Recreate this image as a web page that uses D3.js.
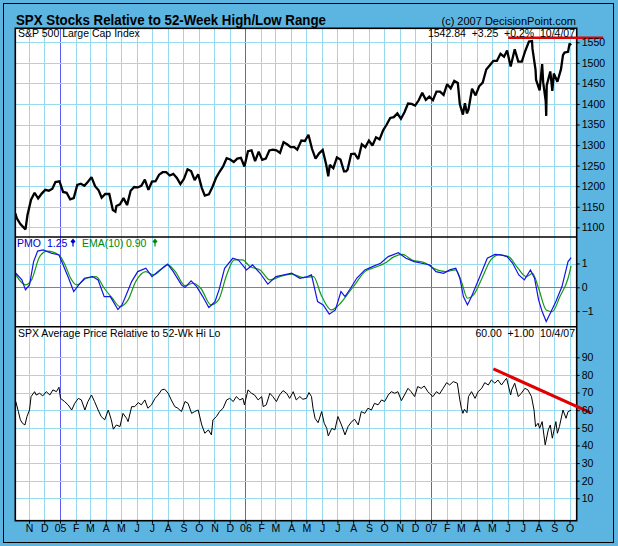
<!DOCTYPE html>
<html><head><meta charset="utf-8">
<script src="https://cdn.jsdelivr.net/npm/d3@7"></script>
<style>
body{margin:0;background:#5cb4e0;}
svg{display:block;}
text{font-family:"Liberation Sans",Arial,sans-serif;}
</style>
</head><body><svg id="c" width="618" height="546"></svg>
<script>
// ---------------- DATA ----------------
const spxData = [
["2004-10-05",1134],["2004-10-08",1122],["2004-10-15",1108],["2004-10-25",1095],["2004-10-29",1130],
["2004-11-05",1167],["2004-11-12",1184],["2004-11-19",1170],["2004-11-26",1182],
["2004-12-03",1191],["2004-12-10",1189],["2004-12-17",1194],["2004-12-23",1210],["2004-12-31",1212],
["2005-01-07",1186],["2005-01-14",1184],["2005-01-21",1168],["2005-01-28",1171],
["2005-02-04",1203],["2005-02-11",1206],["2005-02-18",1201],["2005-02-25",1211],
["2005-03-04",1222],["2005-03-11",1200],["2005-03-18",1190],["2005-03-24",1172],["2005-03-31",1181],
["2005-04-08",1181],["2005-04-15",1142],["2005-04-20",1138],["2005-04-22",1152],["2005-04-29",1156],
["2005-05-06",1171],["2005-05-13",1154],["2005-05-20",1189],["2005-05-27",1198],
["2005-06-03",1197],["2005-06-10",1201],["2005-06-17",1216],["2005-06-24",1191],["2005-07-01",1211],
["2005-07-08",1212],["2005-07-15",1228],["2005-07-22",1234],["2005-07-29",1234],
["2005-08-05",1226],["2005-08-12",1230],["2005-08-19",1220],["2005-08-26",1205],
["2005-09-02",1218],["2005-09-09",1241],["2005-09-16",1237],["2005-09-23",1215],["2005-09-30",1229],
["2005-10-07",1196],["2005-10-13",1177],["2005-10-21",1180],["2005-10-28",1198],
["2005-11-04",1220],["2005-11-11",1235],["2005-11-18",1248],["2005-11-25",1268],
["2005-12-02",1265],["2005-12-09",1259],["2005-12-16",1267],["2005-12-23",1269],["2005-12-30",1248],
["2006-01-06",1285],["2006-01-13",1287],["2006-01-20",1261],["2006-01-27",1284],
["2006-02-03",1264],["2006-02-10",1267],["2006-02-17",1287],["2006-02-24",1289],
["2006-03-03",1287],["2006-03-10",1281],["2006-03-17",1307],["2006-03-24",1302],["2006-03-31",1295],
["2006-04-07",1295],["2006-04-13",1289],["2006-04-21",1311],["2006-04-28",1310],
["2006-05-05",1325],["2006-05-12",1291],["2006-05-19",1267],["2006-05-26",1280],
["2006-06-02",1288],["2006-06-09",1252],["2006-06-13",1224],["2006-06-16",1252],["2006-06-23",1244],["2006-06-30",1270],
["2006-07-07",1265],["2006-07-14",1236],["2006-07-18",1236],["2006-07-21",1240],["2006-07-28",1278],
["2006-08-04",1279],["2006-08-11",1266],["2006-08-18",1302],["2006-08-25",1295],
["2006-09-01",1311],["2006-09-08",1299],["2006-09-15",1319],["2006-09-22",1314],["2006-09-29",1336],
["2006-10-06",1350],["2006-10-13",1366],["2006-10-20",1368],["2006-10-27",1377],
["2006-11-03",1364],["2006-11-10",1380],["2006-11-17",1401],["2006-11-24",1400],
["2006-12-01",1396],["2006-12-08",1409],["2006-12-15",1427],["2006-12-22",1410],["2006-12-29",1418],
["2007-01-05",1409],["2007-01-12",1430],["2007-01-19",1430],["2007-01-26",1422],
["2007-02-02",1448],["2007-02-09",1438],["2007-02-16",1456],["2007-02-23",1451],["2007-02-27",1399],
["2007-03-02",1387],["2007-03-05",1374],["2007-03-09",1402],["2007-03-13",1377],["2007-03-16",1386],["2007-03-23",1437],["2007-03-30",1421],
["2007-04-06",1443],["2007-04-13",1452],["2007-04-20",1484],["2007-04-27",1494],
["2007-05-04",1505],["2007-05-11",1505],["2007-05-18",1522],["2007-05-25",1515],["2007-05-31",1530],
["2007-06-07",1491],["2007-06-15",1533],["2007-06-22",1503],["2007-06-29",1503],
["2007-07-06",1530],["2007-07-13",1552],["2007-07-19",1553],["2007-07-20",1534],["2007-07-26",1483],["2007-07-27",1459],
["2007-08-03",1433],["2007-08-08",1497],["2007-08-10",1453],["2007-08-15",1407],["2007-08-16",1371],["2007-08-17",1445],
["2007-08-24",1479],["2007-08-28",1432],["2007-08-31",1474],
["2007-09-07",1454],["2007-09-14",1484],["2007-09-18",1519],["2007-09-21",1525],["2007-09-28",1527],
["2007-10-01",1547],["2007-10-04",1543]
];

const pmoData = [
["2004-10-06",0.59],["2004-10-18",0.31],["2004-10-25",-0.11],["2004-11-02",0.10],["2004-11-10",1.08],
["2004-11-18",1.52],["2004-11-29",1.57],["2004-12-15",1.43],["2004-12-30",1.36],["2005-01-06",1.00],
["2005-01-18",0.38],["2005-01-28",-0.18],["2005-02-07",0.10],["2005-02-18",0.38],["2005-03-06",0.45],
["2005-03-17",0.31],["2005-03-29",-0.39],["2005-04-10",-0.39],["2005-04-25",-0.93],["2005-05-03",-0.74],
["2005-05-10",-0.39],["2005-05-22",0.24],["2005-06-03",0.66],["2005-06-19",0.80],["2005-07-01",0.45],
["2005-07-13",0.66],["2005-08-01",0.97],["2005-08-12",0.66],["2005-08-28",0.10],["2005-09-04",-0.01],
["2005-09-16",0.27],["2005-09-27",0.03],["2005-10-09",-0.39],["2005-10-21",-0.85],["2005-11-02",-0.60],
["2005-11-10",-0.11],["2005-11-21",0.80],["2005-12-07",1.22],["2005-12-18",1.15],["2006-01-03",0.73],
["2006-01-15",0.94],["2006-01-30",0.59],["2006-02-14",0.13],["2006-03-02",0.45],["2006-03-18",0.52],
["2006-04-02",0.59],["2006-04-18",0.38],["2006-05-03",0.45],["2006-05-11",0.52],["2006-05-23",-0.60],
["2006-06-03",-0.74],["2006-06-15",-1.13],["2006-06-27",-0.95],["2006-07-08",-0.18],["2006-07-16",-0.39],
["2006-07-27",-0.04],["2006-08-08",0.38],["2006-08-24",0.73],["2006-09-08",0.87],["2006-09-24",1.01],
["2006-10-09",1.29],["2006-10-29",1.45],["2006-11-13",1.22],["2006-11-29",1.08],["2006-12-14",1.01],
["2006-12-30",0.94],["2007-01-11",0.66],["2007-01-26",0.59],["2007-02-07",0.73],["2007-02-19",0.80],
["2007-02-27",0.38],["2007-03-06",-0.39],["2007-03-14",-0.74],["2007-03-22",-0.39],["2007-04-06",0.38],
["2007-04-22",1.22],["2007-05-07",1.38],["2007-05-19",1.36],["2007-05-31",1.29],["2007-06-11",1.01],
["2007-06-23",0.52],["2007-07-04",0.31],["2007-07-16",0.73],["2007-07-24",0.38],["2007-08-01",-0.53],
["2007-08-08",-1.02],["2007-08-16",-1.44],["2007-08-24",-1.09],["2007-09-04",-0.60],["2007-09-16",0.03],
["2007-09-28",1.08],["2007-10-04",1.25]
];

const emaData = [
["2004-10-06",0.52],["2004-10-25",0.10],["2004-11-06",0.31],["2004-11-22",1.29],["2004-12-07",1.52],
["2004-12-30",1.36],["2005-01-11",0.94],["2005-01-22",0.38],["2005-02-03",0.10],["2005-02-22",0.38],
["2005-03-13",0.45],["2005-03-29",-0.04],["2005-04-14",-0.46],["2005-04-29",-0.81],["2005-05-15",-0.53],
["2005-05-30",0.24],["2005-06-19",0.66],["2005-07-04",0.52],["2005-08-01",0.94],["2005-08-16",0.66],
["2005-09-04",0.07],["2005-09-20",0.17],["2005-10-05",-0.04],["2005-10-25",-0.74],["2005-11-09",-0.53],
["2005-11-25",0.52],["2005-12-10",1.15],["2005-12-26",1.15],["2006-01-10",0.87],["2006-01-30",0.73],
["2006-02-18",0.31],["2006-03-10",0.45],["2006-04-02",0.55],["2006-04-25",0.41],["2006-05-15",0.45],
["2006-05-30",-0.32],["2006-06-19",-0.95],["2006-07-04",-0.74],["2006-07-20",-0.32],["2006-08-04",0.10],
["2006-08-24",0.66],["2006-09-12",0.83],["2006-10-02",1.01],["2006-10-21",1.29],["2006-11-06",1.38],
["2006-11-25",1.15],["2006-12-22",1.01],["2007-01-06",0.80],["2007-01-30",0.66],["2007-02-19",0.73],
["2007-03-02",0.24],["2007-03-14",-0.46],["2007-03-26",-0.32],["2007-04-10",0.31],["2007-04-29",1.15],
["2007-05-15",1.36],["2007-06-03",1.29],["2007-06-19",0.87],["2007-07-08",0.45],["2007-07-20",0.59],
["2007-08-01",-0.04],["2007-08-16",-0.95],["2007-08-28",-1.02],["2007-09-12",-0.39],["2007-09-28",0.38],
["2007-10-04",0.90]
];

const hiloData = [
["2004-10-06",64.9],["2004-10-11",59.2],["2004-10-15",54.5],["2004-10-19",52.6],["2004-10-24",51.6],
["2004-10-28",56.4],["2004-11-02",60.1],["2004-11-05",67.7],["2004-11-12",70.5],["2004-11-15",68.6],
["2004-11-22",69.6],["2004-11-28",68.1],["2004-12-05",70.5],["2004-12-12",68.6],["2004-12-18",71.5],
["2004-12-25",70.5],["2004-12-30",73.0],["2005-01-02",66.7],["2005-01-10",64.9],["2005-01-17",63.0],
["2005-01-24",60.1],["2005-01-30",63.9],["2005-02-06",66.7],["2005-02-12",65.8],["2005-02-19",60.1],
["2005-02-25",64.9],["2005-03-04",68.6],["2005-03-10",64.9],["2005-03-17",60.1],["2005-03-23",56.4],
["2005-03-30",54.5],["2005-04-06",60.1],["2005-04-12",54.5],["2005-04-16",49.2],["2005-04-22",51.6],
["2005-04-29",50.7],["2005-05-05",58.2],["2005-05-12",55.4],["2005-05-15",53.5],["2005-05-22",62.0],
["2005-05-28",62.0],["2005-06-04",64.3],["2005-06-10",63.0],["2005-06-17",65.8],["2005-06-23",61.1],
["2005-06-30",63.0],["2005-07-07",66.7],["2005-07-13",68.6],["2005-07-20",71.5],["2005-07-26",71.9],
["2005-08-02",69.6],["2005-08-08",65.8],["2005-08-15",62.0],["2005-08-21",61.1],["2005-08-28",59.2],
["2005-09-04",64.9],["2005-09-10",63.9],["2005-09-17",58.2],["2005-09-23",59.2],["2005-09-30",60.1],
["2005-10-07",51.6],["2005-10-13",46.9],["2005-10-20",48.8],["2005-10-26",46.0],["2005-10-29",54.5],
["2005-11-05",56.4],["2005-11-11",59.2],["2005-11-18",61.1],["2005-11-25",65.8],["2005-12-01",66.7],
["2005-12-08",64.9],["2005-12-14",67.7],["2005-12-21",65.8],["2005-12-27",66.7],["2005-12-30",63.0],
["2006-01-06",71.5],["2006-01-13",69.6],["2006-01-19",68.6],["2006-01-26",65.8],["2006-02-02",67.7],
["2006-02-05",62.0],["2006-02-11",63.0],["2006-02-18",69.6],["2006-02-24",67.7],["2006-03-03",64.9],
["2006-03-09",68.6],["2006-03-16",71.1],["2006-03-23",69.6],["2006-03-29",66.7],["2006-04-05",70.5],
["2006-04-11",65.8],["2006-04-18",67.7],["2006-04-24",66.2],["2006-05-01",66.7],["2006-05-06",70.0],
["2006-05-11",67.7],["2006-05-14",61.1],["2006-05-18",55.4],["2006-05-24",52.9],["2006-05-31",59.2],
["2006-06-05",52.6],["2006-06-10",49.7],["2006-06-13",45.4],["2006-06-20",49.7],["2006-06-26",48.8],
["2006-07-02",56.4],["2006-07-09",51.6],["2006-07-16",46.0],["2006-07-22",50.7],["2006-07-29",53.5],
["2006-08-04",54.8],["2006-08-11",51.6],["2006-08-17",59.2],["2006-08-24",58.2],["2006-08-30",61.1],
["2006-09-06",60.1],["2006-09-12",63.9],["2006-09-19",63.0],["2006-09-26",65.8],["2006-10-02",64.9],
["2006-10-09",68.6],["2006-10-15",70.5],["2006-10-22",69.6],["2006-10-28",70.5],["2006-11-04",65.4],
["2006-11-10",68.6],["2006-11-17",72.4],["2006-11-23",70.5],["2006-11-30",67.7],["2006-12-06",73.4],
["2006-12-13",72.4],["2006-12-19",73.7],["2006-12-26",70.5],["2006-12-29",69.6],["2007-01-05",67.7],
["2007-01-12",70.5],["2007-01-18",69.2],["2007-01-25",72.4],["2007-02-01",75.6],["2007-02-07",74.3],
["2007-02-14",76.2],["2007-02-22",75.3],["2007-02-27",65.8],["2007-03-02",61.1],["2007-03-05",58.2],
["2007-03-08",60.5],["2007-03-13",58.6],["2007-03-16",67.7],["2007-03-22",70.5],["2007-03-29",66.7],
["2007-04-04",70.5],["2007-04-11",72.4],["2007-04-17",75.6],["2007-04-24",74.3],["2007-04-30",77.1],
["2007-05-07",75.3],["2007-05-13",77.1],["2007-05-20",74.3],["2007-05-27",77.1],["2007-05-30",78.1],
["2007-06-07",68.6],["2007-06-09",71.5],["2007-06-15",75.3],["2007-06-22",67.7],["2007-06-28",69.6],
["2007-07-05",72.4],["2007-07-11",71.5],["2007-07-18",67.7],["2007-07-23",60.1],["2007-07-26",50.7],
["2007-07-31",52.6],["2007-08-03",49.7],["2007-08-08",53.5],["2007-08-14",40.3],["2007-08-20",48.8],
["2007-08-24",51.6],["2007-08-28",44.1],["2007-09-04",53.5],["2007-09-07",46.9],["2007-09-11",50.7],
["2007-09-18",60.1],["2007-09-24",55.4],["2007-09-28",59.2],["2007-10-04",60.0]
];

const spxResistance = [["2007-06-02",1561],["2007-12-06",1561]];
const hiloTrend = [["2007-05-04",83.4],["2007-11-11",58.6]];

const spxTicks = [1100,1150,1200,1250,1300,1350,1400,1450,1500,1550];
const pmoTicks = [-1,0,1];
const hiloTicks = [10,20,30,40,50,60,70,80,90];
const xDomain = ["2004-10-05","2007-10-15"];

const titleText = "SPX Stocks Relative to 52-Week High/Low Range";
const creditText = "(c) 2007 DecisionPoint.com";
const spxLabel = "S&P 500 Large Cap Index";
const spxInfo = "1542.84  +3.25  +0.2%  10/4/07";
const hiloLabel = "SPX Average Price Relative to 52-Wk Hi Lo";
const hiloInfo = "60.00  +1.00  10/4/07";
const pmoLabel = ["PMO", "1.25", "EMA(10)", "0.90"];

// ---------------- CHART ----------------
const parse = d3.utcParse("%Y-%m-%d");
const svg = d3.select("#c");
const L = 15.3, R = 576.7;
const P1 = [28.3, 237], P2 = [237, 326.7], P3 = [326.7, 520.7];

const x = d3.scaleUtc().domain(xDomain.map(parse)).range([L, R]);
const ySpx = d3.scaleLinear().domain([1100, 1550]).range([227.3, 42.3]);
const yPmo = d3.scaleLinear().domain([0, 1]).range([287.3, 263.5]);
const yHl = d3.scaleLinear().domain([10, 90]).range([498.3, 357.3]);

const BG = "#5cb4e0", GRID = "#98daee", YEAR = "#5c5cf6";

svg.append("rect").attr("width", 618).attr("height", 546).attr("fill", BG);
svg.append("rect").attr("x", 3.5).attr("y", 3.5).attr("width", 610).attr("height", 539)
  .attr("fill", "none").attr("stroke", "#000").attr("stroke-width", 1);

svg.append("rect").attr("x", L).attr("y", P1[0]).attr("width", R - L).attr("height", P3[1] - P1[0]).attr("fill", "#fff");

const defs = svg.append("defs");
[P1, P2, P3].forEach((p, i) => {
  defs.append("clipPath").attr("id", "clip" + i).append("rect")
    .attr("x", L).attr("y", p[0]).attr("width", R - L).attr("height", p[1] - p[0]);
});

const months = d3.utcMonth.range(d3.utcMonth.ceil(x.domain()[0]), x.domain()[1]);
const gGrid = svg.append("g");
gGrid.selectAll("line.m").data(months).join("line")
  .attr("x1", d => Math.round(x(d)) + 0.5).attr("x2", d => Math.round(x(d)) + 0.5)
  .attr("y1", P1[0]).attr("y2", P3[1])
  .attr("stroke", d => d.getUTCMonth() === 0 ? YEAR : GRID).attr("stroke-width", 1);

function hgrid(scale, ticks, skip) {
  gGrid.selectAll(null).data(ticks.filter(t => t !== skip)).join("line")
    .attr("x1", L).attr("x2", R)
    .attr("y1", d => Math.round(scale(d)) + 0.5).attr("y2", d => Math.round(scale(d)) + 0.5)
    .attr("stroke", GRID).attr("stroke-width", 1);
}
hgrid(ySpx, spxTicks);
hgrid(yPmo, pmoTicks, 0);
hgrid(yHl, hiloTicks);

svg.append("line").attr("x1", L).attr("x2", R)
  .attr("y1", Math.round(yPmo(0)) + 0.5).attr("y2", Math.round(yPmo(0)) + 0.5)
  .attr("stroke", "#ff5a10").attr("stroke-width", 1.2);

const lineOf = (ys) => d3.line().x(d => x(parse(d[0]))).y(d => ys(d[1]));

svg.append("path").datum(spxData).attr("clip-path", "url(#clip0)")
  .attr("d", lineOf(ySpx)).attr("fill", "none").attr("stroke", "#000")
  .attr("stroke-width", 2.3).attr("stroke-linejoin", "miter").attr("stroke-miterlimit", 2);

svg.append("path").datum(emaData).attr("clip-path", "url(#clip1)")
  .attr("d", lineOf(yPmo).curve(d3.curveMonotoneX)).attr("fill", "none").attr("stroke", "#139a13").attr("stroke-width", 1.2);
svg.append("path").datum(pmoData).attr("clip-path", "url(#clip1)")
  .attr("d", lineOf(yPmo)).attr("fill", "none").attr("stroke", "#1414e6").attr("stroke-width", 1.2);

svg.append("path").datum(hiloData).attr("clip-path", "url(#clip2)")
  .attr("d", lineOf(yHl)).attr("fill", "none").attr("stroke", "#000").attr("stroke-width", 1);

svg.append("rect").attr("x", L).attr("y", P1[0]).attr("width", R - L).attr("height", P3[1] - P1[0])
  .attr("fill", "none").attr("stroke", "#000").attr("stroke-width", 1.6);
[P2[0], P3[0]].forEach(yy => {
  svg.append("line").attr("x1", L).attr("x2", R).attr("y1", yy).attr("y2", yy)
    .attr("stroke", "#000").attr("stroke-width", 1.6);
});

svg.append("path").datum(spxResistance).attr("d", lineOf(ySpx))
  .attr("stroke", "#e00000").attr("stroke-width", 2.5).attr("fill", "none");
svg.append("path").datum(hiloTrend).attr("d", lineOf(yHl))
  .attr("stroke", "#e00000").attr("stroke-width", 3).attr("fill", "none");

function rightAxis(scale, ticks, fmt) {
  const g = svg.append("g").attr("transform", `translate(${R},0)`)
    .call(d3.axisRight(scale).tickValues(ticks).tickFormat(fmt).tickSize(3).tickPadding(2));
  g.select(".domain").remove();
  g.selectAll("line").attr("stroke", "#000");
  g.selectAll("text").attr("fill", "#000").style("font-size", "10.5px")
    .style("font-family", '"Liberation Sans",Arial,sans-serif');
}
rightAxis(ySpx, spxTicks, d3.format("d"));
rightAxis(yPmo, pmoTicks, d3.format("d"));
rightAxis(yHl, hiloTicks, d3.format("d"));

const mFmt = d => d.getUTCMonth() === 0 ? d3.utcFormat("%y")(d) : d3.utcFormat("%b")(d)[0];
const gx = svg.append("g").attr("transform", `translate(0,${P3[1]})`)
  .call(d3.axisBottom(x).tickValues(months).tickFormat(mFmt).tickSize(3).tickPadding(1));
gx.select(".domain").remove();
gx.selectAll("line").attr("stroke", "#000");
gx.selectAll("text").attr("fill", "#000").style("font-size", "10.5px")
  .style("font-family", '"Liberation Sans",Arial,sans-serif');

svg.append("text").attr("x", 16).attr("y", 25).text(titleText)
  .style("font-size", "14.5px").style("font-weight", "bold").attr("textLength", 310).attr("lengthAdjust", "spacingAndGlyphs");
svg.append("text").attr("x", 576).attr("y", 24.5).attr("text-anchor", "end").text(creditText).style("font-size", "11px");

svg.append("text").attr("x", 18).attr("y", 37).text(spxLabel).style("font-size", "10.5px");
svg.append("text").attr("x", 575).attr("y", 37).attr("text-anchor", "end")
  .style("white-space", "pre").text(spxInfo).style("font-size", "10.5px");

svg.append("text").attr("x", 18).attr("y", 337).text(hiloLabel).style("font-size", "10.5px");
svg.append("text").attr("x", 575).attr("y", 337).attr("text-anchor", "end")
  .style("white-space", "pre").text(hiloInfo).style("font-size", "10.5px");

const lg = svg.append("g").style("font-size", "10.5px");
lg.append("text").attr("x", 17).attr("y", 246.5).attr("fill", "#0000cc").text(pmoLabel[0]);
lg.append("text").attr("x", 47).attr("y", 246.5).attr("fill", "#0000cc").text(pmoLabel[1]);
lg.append("text").attr("x", 82).attr("y", 246.5).attr("fill", "#008800").text(pmoLabel[2]);
lg.append("text").attr("x", 126).attr("y", 246.5).attr("fill", "#008800").text(pmoLabel[3]);
function arrow(cx, col) {
  lg.append("path").attr("d", `M${cx},238.5 L${cx + 2.5},241.5 L${cx},244 L${cx - 2.5},241.5 Z M${cx - 0.6},243 h1.2 v3.5 h-1.2 Z`)
    .attr("fill", col);
}
arrow(73, "#0000cc");
arrow(155, "#008800");
</script>
</body></html>
